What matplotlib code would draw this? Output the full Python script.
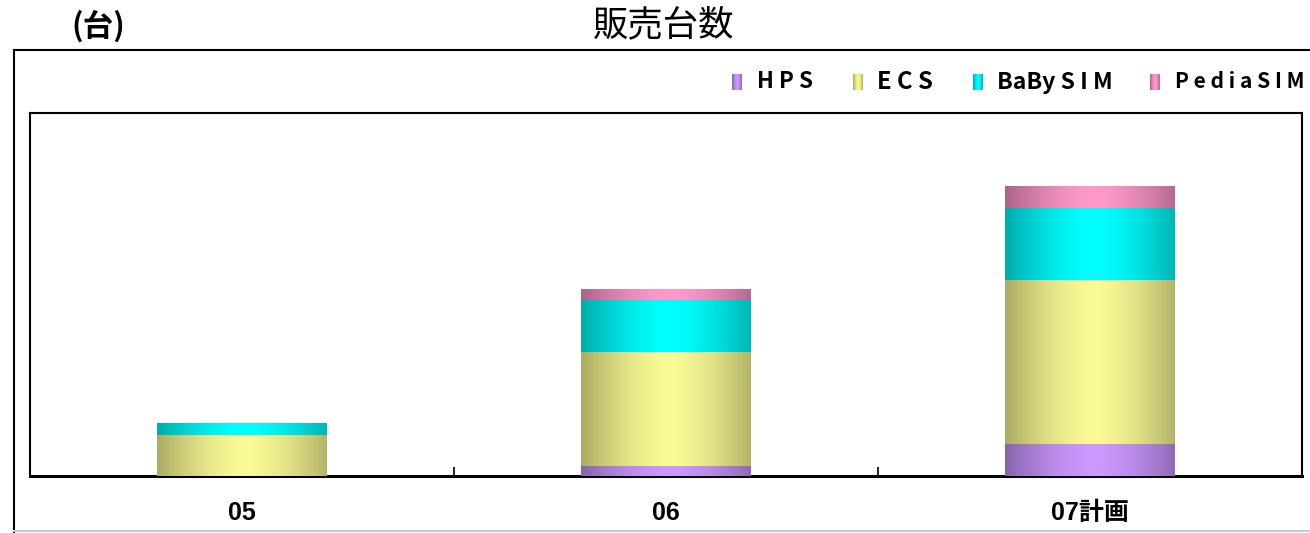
import numpy as np
import matplotlib
matplotlib.use('Agg')
import matplotlib.pyplot as plt
from matplotlib.lines import Line2D

# datos (unidades: 台)
anios = ['05', '06', '07計画']
hps = [0, 10, 31]
ecs = [40, 110, 158]
babysim = [11, 50, 69]
pediasim = [0, 10, 22]

series = ['HPS', 'ECS', 'BaBySIM', 'PediaSIM']
etiquetas = ['H P S', 'E C S', 'BaBy S I M', 'P e d i a S I M']

# colores: (borde oscuro, centro claro)
colores = {
    'HPS': ((0.53, 0.39, 0.67), (0.80, 0.60, 1.00)),
    'ECS': ((0.67, 0.67, 0.39), (0.98, 0.98, 0.59)),
    'BaBySIM': ((0.00, 0.67, 0.67), (0.00, 1.00, 1.00)),
    'PediaSIM': ((0.67, 0.39, 0.53), (1.00, 0.60, 0.80)),
}

cjk = ['Noto Sans CJK JP', 'DejaVu Sans']


def degradado(borde, centro, n=200):
    t = np.linspace(0, 1, n)
    f = 1 - np.clip(np.abs(t - 0.52) / 0.52, 0, 1) ** 1.6
    borde = np.array(borde)
    centro = np.array(centro)
    return (borde + (centro - borde) * f[:, None])[None, :, :]


W, H = 1310, 533
fig = plt.figure(figsize=(W / 100, H / 100), dpi=100)
ax = fig.add_axes([30 / W, 1 - 476 / H, 1272 / W, 363 / H])

x = np.arange(len(anios))
ancho = 0.40
base = np.zeros(len(anios))
datos = {'HPS': hps, 'ECS': ecs, 'BaBySIM': babysim, 'PediaSIM': pediasim}
for s in series:
    vals = np.array(datos[s], dtype=float)
    barras = ax.bar(x, vals, ancho, bottom=base, color=colores[s][1], linewidth=0, zorder=2)
    grad = degradado(*colores[s])
    for b in barras:
        if b.get_height() <= 0:
            continue
        x0, y0 = b.get_x(), b.get_y()
        im = ax.imshow(grad, extent=[x0, x0 + b.get_width(), y0, y0 + b.get_height()],
                       aspect='auto', zorder=3, interpolation='bilinear')
        im.set_clip_path(b)
    base += vals

ax.set_xlim(-0.5, 2.5)
ax.set_ylim(0, 350)
ax.set_yticks([])
ax.set_xticks(x)
ax.set_xticklabels(anios, family=['Liberation Sans', 'Noto Sans CJK JP'], fontsize=18, fontweight='bold')
ax.tick_params(axis='x', which='major', length=0, pad=18)
ax.set_xticks([0.5, 1.5], minor=True)
ax.tick_params(axis='x', which='minor', direction='in', length=6.5, width=1.2)
for sp in ax.spines.values():
    sp.set_linewidth(1.5)
ax.spines['bottom'].set_linewidth(2.2)

# marco exterior
fig.add_artist(Line2D([14 / W, 1], [1 - 50 / H] * 2, color='black', lw=1.5, transform=fig.transFigure))
fig.add_artist(Line2D([14 / W] * 2, [1 - 50 / H, 0], color='black', lw=1.5, transform=fig.transFigure))
fig.add_artist(Line2D([14 / W, 1], [1 - 531 / H] * 2, color='#c8c8c8', lw=1.5, transform=fig.transFigure))

# titulos
fig.text(664 / W, 1 - 25 / H, '販売台数', family=cjk, fontsize=25.5, ha='center', va='center')
fig.text(98 / W, 1 - 26 / H, '(台)', family=cjk, fontsize=22, fontweight='bold', ha='center', va='center')

# leyenda manual
marcas_x = [732, 853, 973, 1150]
textos_x = [757, 877, 997, 1175]
anchos_txt = [56, 56, 116, 130]
renderer = fig.canvas.get_renderer()
for s, et, mx, tx, aw in zip(series, etiquetas, marcas_x, textos_x, anchos_txt):
    mk = fig.add_axes([mx / W, 1 - 90 / H, 10 / W, 16 / H])
    mk.imshow(degradado(*colores[s], n=20), aspect='auto', interpolation='bilinear')
    mk.axis('off')
    t = fig.text(tx / W, 1 - 82 / H, et, family=cjk, fontsize=17.5,
                 fontweight='bold', ha='left', va='center')
    # ajustar tamaño al ancho
    ancho_px = t.get_window_extent(renderer).width
    if ancho_px > aw:
        t.set_fontsize(17.5 * aw / ancho_px)

fig.savefig('out.png', dpi=100)
